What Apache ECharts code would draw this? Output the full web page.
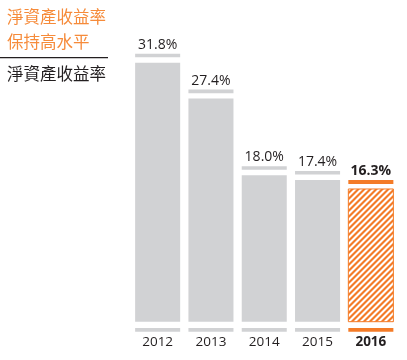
<!DOCTYPE html>
<html><head><meta charset="utf-8">
<script src="https://cdn.jsdelivr.net/npm/echarts@6/dist/echarts.min.js"></script>
<style>html,body{margin:0;padding:0;background:#fff}#c{width:407px;height:360px}</style>
</head><body><div id="c"></div>
<script>
const years = ['2012', '2013', '2014', '2015', '2016'];
const roe = [31.8, 27.4, 18.0, 17.4, 16.3];
const valueLabels = ['31.8%', '27.4%', '18.0%', '17.4%', '16.3%'];
const titleLine1 = '淨資產收益率';
const titleLine2 = '保持高水平';
const subTitle = '淨資產收益率';

const GRAY = '#d1d2d4';
const ORANGE = '#f47b27';
const TEXT = '#231f20';

function hatch() {
  const c = document.createElement('canvas');
  c.width = 6; c.height = 6;
  const g = c.getContext('2d');
  g.fillStyle = '#fff'; g.fillRect(0, 0, 6, 6);
  g.fillStyle = ORANGE;
  for (const k of [0, 6, 12]) {
    g.beginPath();
    g.moveTo(k - 6, 6); g.lineTo(k - 3, 6); g.lineTo(k + 3, 0); g.lineTo(k, 0);
    g.closePath(); g.fill();
  }
  return c;
}
const pattern = { image: hatch(), repeat: 'repeat' };

const chart = echarts.init(document.getElementById('c'), null, { renderer: 'canvas' });
const last = years.length - 1;
chart.setOption({
  animation: false,
  grid: { left: 131, right: 9.5, top: 36.7, bottom: 38.3 },
  xAxis: {
    type: 'category', data: years,
    axisLine: { show: false }, axisTick: { show: false },
    axisLabel: {
      interval: 0, margin: 13, fontSize: 13.5, color: TEXT, fontFamily: 'Open Sans',
      formatter: (v, i) => i === last ? '{b|' + v + '}' : v,
      rich: { b: { fontWeight: 'bold', fontSize: 13.5, color: TEXT, fontFamily: 'Open Sans' } }
    }
  },
  yAxis: { type: 'value', min: 0, max: 35, show: false, splitLine: { show: false } },
  graphic: [
    { type: 'text', left: 7, top: 8, style: { text: titleLine1, fill: '#f68b3a', font: '16.5px "Noto Sans CJK TC"' } },
    { type: 'text', left: 7, top: 33, style: { text: titleLine2, fill: '#f68b3a', font: '16.5px "Noto Sans CJK TC"' } },
    { type: 'rect', shape: { x: 0, y: 57, width: 108, height: 1.3 }, style: { fill: TEXT } },
    { type: 'text', left: 7, top: 65, style: { text: subTitle, fill: TEXT, font: '16.5px "Noto Sans CJK TC"' } }
  ],
  series: [{
    type: 'custom',
    data: roe.map((v, i) => [i, v]),
    clip: false,
    renderItem: (params, api) => {
      const i = api.value(0), v = api.value(1);
      const top = api.coord([i, v]);
      const base = api.coord([i, 0]);
      const w = api.size([1, 0])[0] * 0.845;
      const x = top[0] - w / 2;
      const isLast = i === last;
      const capColor = isLast ? ORANGE : GRAY;
      const capTop = top[1] - 9;
      return {
        type: 'group',
        children: [
          { type: 'rect', shape: { x: x, y: top[1], width: w, height: base[1] - top[1] },
            style: isLast ? { fill: pattern, stroke: ORANGE, lineWidth: 1 } : { fill: GRAY } },
          { type: 'rect', shape: { x: x, y: capTop, width: w, height: isLast ? 4 : 3.6 }, style: { fill: capColor } },
          { type: 'rect', shape: { x: x, y: base[1] + 6.3, width: w, height: 3.7 }, style: { fill: capColor } },
          { type: 'text', x: top[0], y: capTop - 2,
            style: { text: valueLabels[i], fill: TEXT, align: 'center', verticalAlign: 'bottom',
              font: (isLast ? 'bold 14px' : '14px') + ' "Open Sans"' } }
        ]
      };
    }
  }]
});
</script></body></html>
